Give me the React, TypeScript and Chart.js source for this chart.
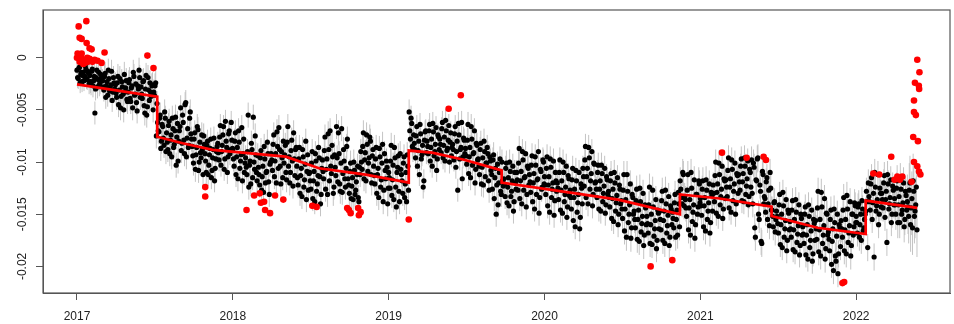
import React, { useEffect, useRef } from "react";
import { Chart, registerables } from "chart.js";

Chart.register(...registerables);

// Daily series, sampled every 3 days from 1 January of each year (phase A)
// and again 1.5 days later (phase B). Values in units of 1e-4, read off the picture.
const v2017 = [
  -12, -20, -9, -16, -23, -14, -18, -11, -21, -15,
  -17, -25, -11, -22, -53, -19, -28, -14, -24, -20,
  -22, -31, -15, -27, -36, -20, -29, -13, -33, -24,
  -26, -38, -18, -31, -48, -23, -35, -16, -29, -40,
  -33, -21, -42, -27, -14, -36, -25, -51, -30, -19,
  -28, -39, -22, -53, -17, -47, -31, -24, -37, -26,
  -33, -27, -75, -62, -71, -55, -80, -66, -84, -58,
  -72, -88, -61, -79, -95, -68, -83, -57, -76, -99,
  -70, -48, -82, -62, -92, -43, -77, -86, -58, -73,
  -85, -101, -72, -93, -66, -108, -81, -96, -88, -75,
  -92, -110, -80, -103, -87, -115, -96, -77, -106, -90,
  -82, -98, -65, -90, -74, -107, -61, -86, -95, -70, -88, -79,
];
const v2018 = [
  -88, -104, -72, -95, -116, -81, -99, -67, -92, -110,
  -96, -112, -55, -103, -121, -88, -57, -107, -93, -118,
  -105, -122, -89, -114, -129, -97, -110, -81, -119, -102,
  -92, -108, -74, -99, -120, -85, -67, -104, -90, -115,
  -101, -84, -117, -66, -95, -110, -79, -123, -97, -88,
  -104, -122, -86, -113, -133, -95, -117, -80, -109, -127,
  -110, -126, -90, -118, -138, -99, -121, -86, -114, -131,
  -98, -116, -76, -107, -131, -88, -70, -111, -95, -124,
  -105, -66, -119, -92, -128, -68, -111, -99, -124, -85,
  -116, -130, -101, -123, -136, -108, -127, -112, -134, -105,
  -90, -107, -72, -98, -118, -83, -101, -76, -112, -94,
  -104, -121, -86, -112, -134, -95, -117, -83, -127, -108, -99, -140,
];
const v2019 = [
  -110, -125, -84, -117, -136, -96, -143, -105, -128, -92,
  -112, -130, -95, -121, -138, -104, -52, -78, -63, -88,
  -82, -96, -66, -89, -112, -73, -93, -124, -79, -70,
  -80, -92, -64, -86, -104, -71, -90, -67, -97, -76,
  -78, -91, -62, -84, -99, -70, -87, -65, -81, -94,
  -83, -98, -66, -90, -127, -74, -88, -62, -95, -79,
  -87, -102, -64, -95, -115, -78, -92, -70, -107, -84,
  -97, -112, -82, -105, -122, -90, -101, -86, -118, -95,
  -108, -126, -93, -115, -150, -102, -120, -97, -131, -118,
  -116, -133, -101, -124, -142, -109, -128, -104, -138, -120,
  -110, -127, -87, -118, -140, -98, -115, -92, -131, -106,
  -112, -129, -94, -120, -145, -103, -117, -90, -134, -109, -124, -100,
];
const v2020 = [
  -114, -131, -95, -122, -148, -105, -126, -99, -137, -118,
  -120, -136, -98, -127, -149, -110, -131, -104, -143, -116,
  -127, -145, -106, -134, -162, -118, -139, -110, -153, -125,
  -106, -123, -85, -114, -140, -96, -118, -90, -131, -102,
  -119, -134, -103, -126, -147, -111, -130, -106, -141, -117,
  -128, -143, -111, -135, -157, -120, -139, -115, -150, -126,
  -137, -154, -112, -145, -172, -128, -150, -121, -163, -134,
  -147, -163, -126, -155, -176, -138, -159, -130, -170, -144,
  -152, -168, -124, -160, -179, -143, -164, -136, -175, -149,
  -147, -165, -128, -156, -178, -140, -161, -133, -172, -145,
  -148, -163, -131, -155, -170, -140, -118, -134, -110, -142,
  -136, -152, -112, -144, -170, -125, -148, -117, -160, -131, -143, -121,
];
const v2021 = [
  -135, -151, -118, -142, -166, -127, -147, -121, -158, -132,
  -122, -138, -100, -129, -152, -112, -133, -104, -145, -118,
  -117, -133, -96, -124, -148, -107, -128, -101, -140, -113,
  -112, -127, -97, -119, -138, -104, -123, -99, -133, -110,
  -98, -140, -105, -172, -118, -96, -155, -128, -178, -112,
  -133, -148, -115, -140, -161, -125, -146, -162, -138, -155,
  -152, -168, -131, -160, -182, -142, -164, -136, -175, -149,
  -157, -172, -137, -165, -186, -148, -169, -141, -180, -154,
  -162, -178, -143, -170, -193, -152, -175, -146, -188, -159,
  -156, -174, -128, -165, -190, -143, -170, -135, -183, -150,
  -167, -185, -146, -176, -204, -158, -195, -150, -188, -163,
  -156, -172, -134, -165, -188, -145, -168, -138, -180, -150, -162, -142,
];
const v2022 = [
  -152, -168, -140, -160, -175, -145, -163, -150, -128, -182,
  -133, -146, -115, -139, -191, -124, -142, -112, -150, -130,
  -130, -144, -113, -136, -177, -121, -140, -117, -150, -127,
  -135, -150, -118, -141, -158, -126, -146, -120, -155, -132,
  -138, -152, -120, -144, -163, -128, -147, -124,
];

const b2017 = [
  -19, -10, -24, -14, -17, -22, -8, -20, -13, -25,
  -23, -13, -27, -18, -30, -12, -21, -26, -16, -22,
  -28, -18, -38, -23, -12, -32, -26, -41, -19, -30,
  -34, -24, -45, -20, -37, -28, -50, -33, -22, -42,
  -24, -39, -29, -48, -18, -35, -43, -27, -12, -38,
  -35, -23, -46, -30, -55, -19, -41, -33, -27, -50,
  -36, -24, -44, -70, -58, -87, -64, -77, -52, -90,
  -81, -65, -92, -74, -58, -86, -70, -103, -63, -80,
  -66, -89, -55, -79, -45, -95, -68, -84, -52, -78,
  -94, -78, -107, -86, -69, -100, -91, -74, -112, -83,
  -99, -84, -112, -93, -78, -108, -88, -118, -97, -85,
  -91, -76, -103, -84, -66, -97, -80, -110, -73, -92, -62, -87,
];
const b2018 = [
  -97, -80, -112, -86, -70, -106, -93, -118, -78, -101,
  -105, -90, -124, -99, -82, -115, -100, -75, -110, -94,
  -112, -96, -127, -104, -85, -120, -109, -92, -131, -100,
  -98, -83, -114, -92, -71, -106, -88, -121, -96, -80,
  -93, -110, -81, -104, -120, -89, -99, -72, -113, -86,
  -115, -97, -130, -106, -88, -124, -102, -136, -93, -111,
  -118, -101, -135, -109, -92, -128, -113, -96, -140, -106,
  -109, -89, -126, -97, -73, -118, -104, -84, -130, -93,
  -113, -96, -72, -121, -101, -129, -88, -116, -106, -78,
  -122, -109, -135, -115, -100, -131, -119, -104, -138, -112,
  -100, -85, -116, -91, -74, -109, -96, -80, -120, -88,
  -113, -97, -130, -106, -87, -124, -101, -138, -92, -116, -105, -125,
];
const b2019 = [
  -115, -99, -132, -103, -86, -124, -110, -94, -138, -107,
  -118, -101, -134, -110, -93, -127, -70, -58, -85, -74,
  -88, -75, -104, -80, -64, -97, -84, -118, -71, -91,
  -85, -70, -99, -78, -63, -94, -83, -108, -74, -88,
  -83, -68, -96, -76, -60, -89, -79, -100, -72, -86,
  -88, -73, -105, -80, -63, -97, -86, -116, -77, -92,
  -94, -79, -111, -86, -66, -103, -91, -120, -82, -98,
  -104, -88, -121, -96, -80, -114, -101, -92, -127, -99,
  -112, -98, -135, -106, -122, -141, -110, -128, -100, -123,
  -121, -106, -139, -115, -100, -133, -118, -147, -110, -126,
  -117, -101, -135, -109, -90, -127, -114, -143, -104, -122,
  -119, -103, -138, -111, -95, -131, -116, -149, -107, -126, -98, -121,
];
const b2020 = [
  -122, -106, -142, -114, -97, -134, -120, -151, -110, -128,
  -125, -110, -146, -118, -100, -138, -124, -153, -113, -132,
  -134, -117, -156, -126, -108, -148, -131, -164, -121, -140,
  -114, -98, -134, -106, -86, -126, -111, -142, -101, -120,
  -126, -110, -145, -118, -103, -138, -123, -149, -114, -131,
  -134, -118, -154, -126, -110, -147, -132, -160, -122, -140,
  -145, -127, -166, -136, -112, -158, -141, -173, -131, -150,
  -155, -137, -174, -146, -125, -167, -152, -180, -141, -160,
  -159, -141, -178, -150, -127, -171, -156, -183, -146, -164,
  -155, -137, -175, -147, -127, -168, -151, -180, -142, -160,
  -154, -139, -172, -146, -129, -162, -126, -140, -112, -133,
  -144, -127, -165, -136, -110, -157, -141, -173, -131, -150, -118, -139,
];
const b2021 = [
  -142, -126, -162, -134, -117, -155, -139, -168, -129, -147,
  -130, -113, -149, -121, -101, -141, -126, -154, -116, -135,
  -124, -108, -144, -116, -98, -137, -121, -150, -111, -130,
  -119, -104, -137, -111, -96, -131, -116, -141, -107, -124,
  -130, -101, -163, -117, -97, -150, -122, -176, -109, -140,
  -135, -119, -155, -127, -110, -146, -152, -139, -167, -147,
  -159, -141, -179, -150, -129, -172, -156, -185, -146, -165,
  -164, -146, -184, -155, -136, -177, -161, -189, -150, -170,
  -169, -150, -189, -160, -141, -182, -166, -195, -155, -175,
  -164, -144, -186, -155, -129, -178, -161, -193, -149, -170,
  -174, -155, -198, -164, -145, -190, -171, -207, -160, -181,
  -164, -146, -185, -155, -132, -177, -161, -190, -150, -170, -139, -158,
];
const b2022 = [
  -158, -143, -172, -150, -137, -166, -155, -147, -138, -120,
  -138, -121, -155, -130, -110, -147, -136, -160, -125, -143,
  -136, -120, -153, -128, -112, -145, -134, -158, -123, -141,
  -141, -125, -158, -133, -116, -150, -139, -162, -128, -146,
  -143, -127, -160, -135, -118, -152, -141, -165,
];

// Half-length of the grey error bars, per month (units of 1e-4)
const e2017 = [10, 11, 11, 12, 12, 12, 12, 12, 12, 12, 11, 11];
const e2018 = [12, 12, 12, 12, 12, 12, 12, 12, 12, 12, 12, 12];
const e2019 = [12, 12, 11, 11, 11, 11, 12, 12, 12, 12, 12, 12];
const e2020 = [12, 12, 12, 12, 12, 12, 13, 13, 13, 13, 13, 13];
const e2021 = [13, 12, 12, 12, 13, 13, 12, 12, 12, 13, 13, 13];
const e2022 = [13, 13, 13, 15, 26];

// Red outliers: decimal year and value (units of 1e-4)
const outlierYears = [
  2017.011, 2017.06, 2017.017, 2017.03, 2017.062, 2017.081, 2017.094, 2017.004,
  2017.03, 2017.0, 2017.017, 2017.049, 2017.081, 2017.113, 2017.132, 2017.158,
  2017.177, 2017.049, 2017.07, 2017.04, 2017.1, 2017.025, 2017.066, 2017.452,
  2017.491, 2017.823, 2017.823, 2018.088, 2018.137, 2018.173, 2018.18, 2018.201,
  2018.207, 2018.239, 2018.271, 2018.324, 2018.51, 2018.538, 2018.734, 2018.756,
  2018.745, 2018.804, 2018.82, 2018.809, 2019.129, 2019.385, 2019.463, 2020.681,
  2020.82, 2021.139, 2021.297, 2021.406, 2021.421, 2021.912, 2021.923, 2022.11,
  2022.148, 2022.225, 2022.246, 2022.264, 2022.296, 2022.28, 2022.355, 2022.392,
  2022.406, 2022.377, 2022.402, 2022.404, 2022.371, 2022.371, 2022.383, 2022.366,
  2022.396, 2022.371, 2022.392, 2022.403, 2022.412,
];
const outlierValues = [
  30, 35, 19, 18, 14, 9, 8, 4,
  4, 0, -4, -2, -1, -2, -3, -5,
  5, -5, -4, -6, -4, 1, 0, 2,
  -10, -124, -133, -146, -132, -130, -139, -138,
  -146, -149, -132, -136, -142, -143, -144, -149,
  -146, -144, -148, -151, -155, -49, -36, -200,
  -194, -91, -96, -95, -98, -216, -215, -111,
  -112, -95, -117, -114, -114, -117, -119, -2,
  -14, -24, -27, -30, -41, -52, -55, -76,
  -80, -100, -104, -109, -112,
];

// Piecewise trend with level shifts (decimal year, value in units of 1e-4)
const trendYears = [
  2017.0, 2017.515, 2017.515, 2017.678, 2017.87, 2018.34, 2018.553, 2018.852,
  2019.129, 2019.129, 2019.278, 2019.49, 2019.725, 2019.725, 2020.472, 2020.869,
  2020.869, 2021.112, 2021.457, 2021.457, 2021.752, 2022.061, 2022.061, 2022.392,
];
const trendValues = [
  -25.5, -37.4, -75.7, -82, -88.4, -94.8, -106, -112,
  -119.7, -89, -91, -98, -108, -119.7, -136, -150,
  -131, -134.7, -142.7, -151.7, -163, -169, -137, -144,
];

const xTickValues = [2017, 2018, 2019, 2020, 2021, 2022];
const xTickLabels = ["2017", "2018", "2019", "2020", "2021", "2022"];
const yTickValues = [-0.02, -0.015, -0.01, -0.005, 0];
const yTickLabels = ["-0.02", "-0.015", "-0.01", "-0.005", "0"];

const UNIT = 1e-4;
const STEP_DAYS = 3;
const PHASE_B_DAYS = 1.5;
const seriesYears = [2017, 2018, 2019, 2020, 2021, 2022];
const seriesA = [v2017, v2018, v2019, v2020, v2021, v2022];
const seriesB = [b2017, b2018, b2019, b2020, b2021, b2022];
const seriesErrors = [e2017, e2018, e2019, e2020, e2021, e2022];

const points: { x: number; y: number }[] = [];
const errs: number[] = [];
seriesYears.forEach((yr, k) => {
  [seriesA[k], seriesB[k]].forEach((arr, phase) => {
    arr.forEach((v, j) => {
      const day = j * STEP_DAYS + (phase === 1 ? PHASE_B_DAYS : 0);
      points.push({ x: yr + day / 365.25, y: v * UNIT });
      const m = Math.min(seriesErrors[k].length - 1, Math.floor(j / 10));
      errs.push(seriesErrors[k][m] * UNIT);
    });
  });
});
const outlierPoints = outlierYears.map((x, i) => ({ x, y: outlierValues[i] * UNIT }));
const trendPoints = trendYears.map((x, i) => ({ x, y: trendValues[i] * UNIT }));

const BLACK_INDEX = 2;
const FONT = { family: "'Liberation Sans', Arial, Helvetica, sans-serif", size: 12 };

const errorBarPlugin = {
  id: "errorBars",
  beforeDatasetsDraw(chart: any) {
    const meta = chart.getDatasetMeta(BLACK_INDEX);
    const ys = chart.scales.y;
    const a = chart.chartArea;
    const ctx = chart.ctx;
    ctx.save();
    ctx.beginPath();
    ctx.rect(a.left, a.top, a.right - a.left, a.bottom - a.top);
    ctx.clip();
    ctx.strokeStyle = "#c4c4c4";
    ctx.lineWidth = 1;
    ctx.beginPath();
    meta.data.forEach((el: any, i: number) => {
      const p = points[i];
      ctx.moveTo(el.x, ys.getPixelForValue(p.y + errs[i]));
      ctx.lineTo(el.x, ys.getPixelForValue(p.y - errs[i]));
    });
    ctx.stroke();
    ctx.restore();
  },
};

const framePlugin = {
  id: "frame",
  afterDraw(chart: any) {
    const a = chart.chartArea;
    const ctx = chart.ctx;
    ctx.save();
    ctx.strokeStyle = "#555";
    ctx.lineWidth = 1.2;
    ctx.strokeRect(a.left, a.top, a.right - a.left, a.bottom - a.top);
    ctx.restore();
  },
};

export default function App() {
  const ref = useRef<HTMLCanvasElement | null>(null);
  useEffect(() => {
    if (!ref.current) return;
    const chart = new Chart(ref.current, {
      type: "scatter",
      data: {
        datasets: [
          {
            label: "trend",
            data: trendPoints,
            showLine: true,
            borderColor: "#ff0000",
            borderWidth: 2.7,
            pointRadius: 0,
            fill: false,
            order: 0,
          } as any,
          {
            label: "outliers",
            data: outlierPoints,
            backgroundColor: "#ff0000",
            borderWidth: 0,
            pointRadius: 3.3,
            order: 1,
          },
          {
            label: "series",
            data: points,
            backgroundColor: "#000000",
            borderWidth: 0,
            pointRadius: 2.6,
            order: 2,
          },
        ],
      },
      options: {
        animation: false,
        responsive: false,
        devicePixelRatio: 1,
        events: [],
        layout: { padding: { top: 10, left: 0, right: 1, bottom: 0 } },
        plugins: { legend: { display: false }, tooltip: { enabled: false } },
        scales: {
          x: {
            type: "linear",
            min: 2016.782,
            max: 2022.602,
            afterBuildTicks: (s: any) => {
              s.ticks = xTickValues.map((v) => ({ value: v }));
            },
            afterFit: (s: any) => {
              s.height = 31;
            },
            ticks: {
              callback: (_v: any, i: number) => xTickLabels[i],
              font: FONT,
              color: "#222",
              padding: 9,
              maxRotation: 0,
              minRotation: 0,
            },
            grid: { drawOnChartArea: false, drawTicks: true, tickLength: 7, color: "#555" },
            border: { display: true, color: "#555" },
          },
          y: {
            type: "linear",
            min: -0.02255,
            max: 0.00457,
            afterBuildTicks: (s: any) => {
              s.ticks = yTickValues.map((v) => ({ value: v }));
            },
            afterFit: (s: any) => {
              s.width = 43;
            },
            ticks: {
              callback: (_v: any, i: number) => yTickLabels[i],
              font: FONT,
              color: "#222",
              minRotation: 90,
              maxRotation: 90,
              crossAlign: "center",
              padding: -4,
            },
            grid: { drawOnChartArea: false, drawTicks: true, tickLength: 7, color: "#555" },
            border: { display: true, color: "#555" },
          },
        },
      },
      plugins: [errorBarPlugin, framePlugin],
    } as any);
    return () => chart.destroy();
  }, []);
  return (
    <div style={{ position: "fixed", left: 0, top: 0, width: 954, height: 324, background: "#fff" }}>
      <canvas ref={ref} width={954} height={324} style={{ width: 954, height: 324 }} />
    </div>
  );
}
